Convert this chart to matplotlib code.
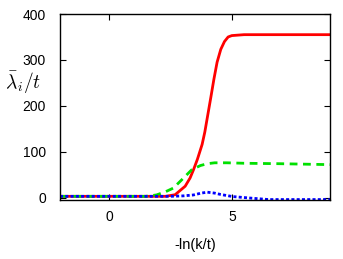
import numpy as np
import matplotlib.pyplot as plt

plt.rcParams['font.family'] = ['Liberation Sans', 'DejaVu Sans']
plt.rcParams['mathtext.fontset'] = 'cm'

# values
x_red = [-2, 2.3, 2.69, 3.1, 3.3, 3.44, 3.6, 3.79, 3.9, 4.02, 4.15, 4.27,
         4.4, 4.55, 4.7, 4.85, 5.0, 5.5, 9]
y_red = [3, 3, 6.5, 25, 43, 61, 84, 116, 143, 180, 220, 258,
         295, 323, 340, 350, 353, 355, 355]

x_green = [-2, 1.5, 1.93, 2.3, 2.62, 2.96, 3.37, 3.72, 4.0, 4.3, 4.8, 5.5, 7, 9]
y_green = [3, 3, 6, 13, 21, 39, 61, 70, 74, 76, 76, 75, 74, 72]

x_blue = [-2, 2.5, 3.03, 3.44, 3.75, 4.0, 4.3, 4.55, 5.03, 5.8, 6.5, 9]
y_blue = [3, 3, 4, 6, 10, 12, 10, 7, 2.5, -1, -4, -4]

fig = plt.figure(figsize=(3.43, 2.59), dpi=100)
ax = fig.add_axes([60/343, 1 - 200/259, 270/343, 186/259])

ax.plot(x_red, y_red, color='#ff0000', lw=2.0)
ax.plot(x_green, y_green, color='#00e000', lw=2.0, dashes=(2.8, 2.0),
        dash_capstyle='butt')
ax.plot(x_blue, y_blue, color='#0000ff', lw=2.0, dashes=(1.1, 0.8),
        dash_capstyle='butt')

ax.set_xlim(-2, 9)
ax.set_ylim(-5, 400)
ax.set_xticks([0, 5])
ax.set_yticks([0, 100, 200, 300, 400])
ax.tick_params(direction='in', top=True, right=True, length=4, width=0.8,
               labelsize=10)
ax.tick_params(axis='x', pad=7)
ax.tick_params(axis='y', pad=10)
for s in ax.spines.values():
    s.set_linewidth(1.0)

ax.set_xlabel('-ln(k/t)', fontsize=10.5, labelpad=10)
fig.text(23/343, 1 - 83/259, r'$\bar{\lambda}_i/t$', fontsize=14,
         ha='center', va='center')

fig.savefig('out.png', dpi=100)
